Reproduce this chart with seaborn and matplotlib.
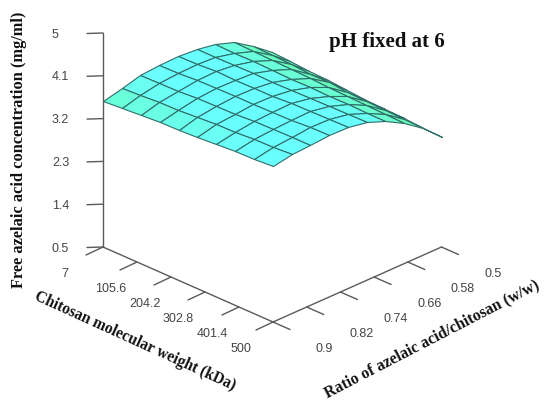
import numpy as np
import pandas as pd
import matplotlib
matplotlib.use("Agg")
import matplotlib.pyplot as plt
from matplotlib.colors import LinearSegmentedColormap
import seaborn as sns

# ---- data ----
mw_ticks = [7, 105.6, 204.2, 302.8, 401.4, 500]
mw_labels = ["7", "105.6", "204.2", "302.8", "401.4", "500"]
ratio_ticks = [0.9, 0.82, 0.74, 0.66, 0.58, 0.5]
ratio_labels = ["0.9", "0.82", "0.74", "0.66", "0.58", "0.5"]
conc_ticks = [0.5, 1.4, 2.3, 3.2, 4.1, 5.0]
conc_labels = ["0.5", "1.4", "2.3", "3.2", "4.1", "5"]

# surface grid: 10 molecular weights x 10 ratios
mw_grid = [7, 61.8, 116.6, 171.3, 226.1, 280.9, 335.7, 390.4, 445.2, 500]
ratio_grid = [0.9, 0.856, 0.811, 0.767, 0.722, 0.678, 0.633, 0.589, 0.544, 0.5]
r090 = [3.58, 3.60, 3.62, 3.65, 3.67, 3.69, 3.72, 3.74, 3.76, 3.79]
r086 = [3.68, 3.70, 3.72, 3.74, 3.76, 3.78, 3.80, 3.82, 3.84, 3.86]
r081 = [3.77, 3.78, 3.79, 3.80, 3.82, 3.83, 3.84, 3.86, 3.87, 3.88]
r077 = [3.80, 3.81, 3.83, 3.84, 3.85, 3.86, 3.87, 3.88, 3.90, 3.91]
r072 = [3.82, 3.83, 3.84, 3.84, 3.85, 3.86, 3.87, 3.88, 3.89, 3.90]
r068 = [3.79, 3.79, 3.80, 3.80, 3.80, 3.81, 3.81, 3.81, 3.82, 3.82]
r063 = [3.72, 3.71, 3.71, 3.70, 3.69, 3.69, 3.68, 3.68, 3.67, 3.67]
r059 = [3.59, 3.57, 3.56, 3.54, 3.53, 3.51, 3.50, 3.48, 3.47, 3.45]
r054 = [3.33, 3.31, 3.29, 3.27, 3.26, 3.24, 3.22, 3.20, 3.19, 3.17]
r050 = [3.02, 3.00, 2.98, 2.95, 2.93, 2.90, 2.88, 2.86, 2.83, 2.81]

title_text = "pH fixed at 6"
zlabel = "Free azelaic acid concentration (mg/ml)"
xlabel = "Chitosan molecular weight (kDa)"
ylabel = "Ratio of azelaic acid/chitosan (w/w)"

sns.set_theme(style="white", rc={"axes.facecolor": "white"})
fig = plt.figure(figsize=(5.46, 4.0), dpi=100)
ax = fig.add_axes([0, 0, 1, 1])
ax.set_xlim(0, 546)
ax.set_ylim(400, 0)
ax.axis("off")


def proj(mw, ratio, conc):
    """Oblique projection of the box (as drawn by R persp) to the picture."""
    u = (np.asarray(mw, float) - 7) / 493
    v = (0.9 - np.asarray(ratio, float)) / 0.4
    w = (np.asarray(conc, float) - 0.5) / 4.5
    return 103 + 170 * u + 168.5 * v, 247 + 75 * u - 75 * v - 214 * w


Z = np.array([r050, r054, r059, r063, r068, r072, r077, r081, r086, r090])
MW, RT = np.meshgrid(mw_grid, ratio_grid[::-1])
SX, SY = proj(MW, RT, Z)
C = (Z[:-1, :-1] + Z[1:, :-1] + Z[:-1, 1:] + Z[1:, 1:]) / 4
cmap = LinearSegmentedColormap.from_list(
    "surf", [(0, "#66F0A8"), (0.55, "#6AFFBC"), (0.74, "#6AFFD0"), (1, "#6AFFFF")])
ax.pcolormesh(SX, SY, C, cmap=cmap, vmin=3.0, vmax=3.8, shading="flat",
              edgecolors="#2F6E6A", linewidth=0.8, antialiased=True)

# box axes
axis_col = "#5a5a5a"
segs = []
xa, ya = proj([7, 500], [0.9, 0.9], [0.5, 0.5])
segs.append(pd.DataFrame({"x": xa, "y": ya, "s": "mw"}))
xa, ya = proj([500, 500], [0.9, 0.5], [0.5, 0.5])
segs.append(pd.DataFrame({"x": xa, "y": ya, "s": "ratio"}))
xa, ya = proj([7, 7], [0.9, 0.9], [0.5, 5.0])
segs.append(pd.DataFrame({"x": xa, "y": ya, "s": "conc"}))

tk = dict(fontsize=9, color="#444444", family="Liberation Sans", va="center", ha="left")
for c, lab in zip(conc_ticks, conc_labels):
    x0, y0 = proj(7, 0.9, c)
    segs.append(pd.DataFrame({"x": [x0, x0 - 16], "y": [y0, y0 + 0.5], "s": f"c{lab}"}))
    ax.text(x0 - 51, y0 + 1.5, lab, **tk)
for m, lab in zip(mw_ticks, mw_labels):
    x0, y0 = proj(m, 0.9, 0.5)
    segs.append(pd.DataFrame({"x": [x0, x0 - 17], "y": [y0, y0 + 8], "s": f"m{lab}"}))
    ax.text(x0 - 42, y0 + 27, lab, **tk)
for r, lab in zip(ratio_ticks, ratio_labels):
    x0, y0 = proj(500, r, 0.5)
    segs.append(pd.DataFrame({"x": [x0, x0 + 17], "y": [y0, y0 + 7.5], "s": f"r{lab}"}))
    ax.text(x0 + 43, y0 + 27, lab, **tk)
sns.lineplot(data=pd.concat(segs), x="x", y="y", units="s", estimator=None, sort=False,
             color=axis_col, lw=1.0, ax=ax, legend=False)
ax.set_xlim(0, 546)
ax.set_ylim(400, 0)
ax.axis("off")

lab = dict(family="Liberation Serif", fontweight="bold", color="#111111",
           ha="center", va="center", rotation_mode="anchor")
ax.text(19, 149.5, zlabel, rotation=90, fontsize=11.8, **lab)
ax.text(135.5, 341, xlabel, rotation=-24.5, fontsize=11.2, **lab)
ax.text(432, 339, ylabel, rotation=27.4, fontsize=11.4, **lab)
ax.text(387, 41.5, title_text, family="Liberation Serif", fontweight="bold",
        fontsize=15, color="#111111", ha="center", va="center")

fig.savefig("out.png", dpi=100)
